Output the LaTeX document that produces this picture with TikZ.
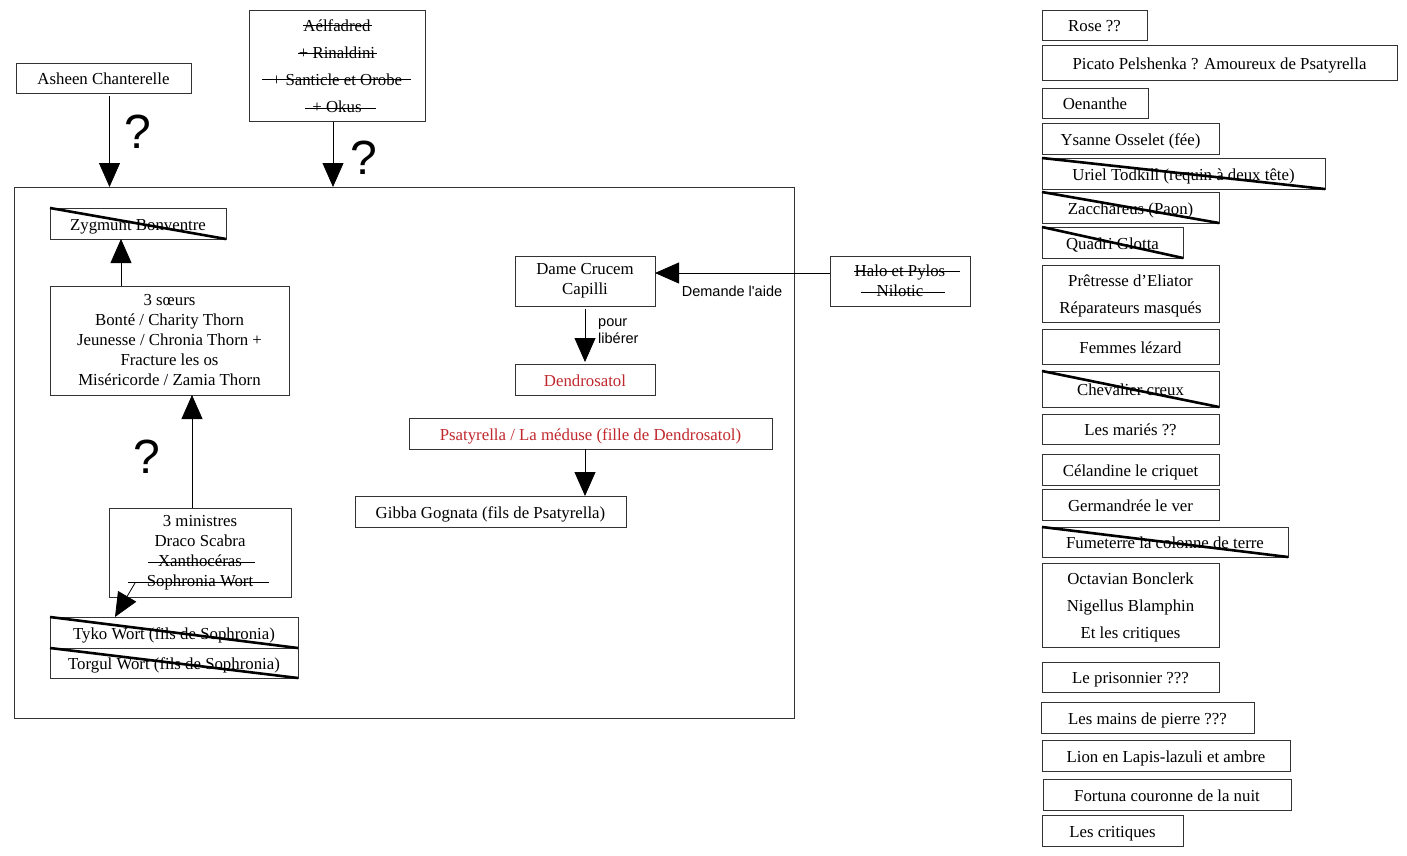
\documentclass[tikz,border=0pt]{standalone}
\usepackage{fontspec}
\setmainfont{Liberation Serif}
\newfontfamily\labelfont{Liberation Sans}
\usetikzlibrary{arrows.meta}
\definecolor{redtxt}{HTML}{C0282D}
\definecolor{edge}{HTML}{333333}
\begin{document}
\begin{tikzpicture}[x=1pt,y=-1pt,
  box/.style={draw=edge, line width=0.9pt, inner sep=0pt, outer sep=0pt, align=center, font=\fontsize{16.8}{20}\selectfont, text=black},
  one/.style={box, text height=16pt, text depth=3pt},
  wide/.style={font=\fontsize{16.8}{27}\selectfont},
  redbox/.style={text=redtxt},
  arr/.style={line width=0.8pt, -{Triangle[width=21pt,length=24pt]}},
  cross/.style={line width=2.6pt},
  strike/.style={line width=0.8pt},
  qmark/.style={font=\labelfont\fontsize{48}{48}\selectfont, inner sep=0pt},
  lbl/.style={font=\labelfont\fontsize{14.5}{16.5}\selectfont, inner sep=0pt, align=left}
]
\useasboundingbox (0,0) rectangle (1407,855);

% ---------- left part ----------
\node[one, minimum width=175pt, minimum height=30pt] (asheen) at (103.5,78) {Asheen Chanterelle};
\node[box, wide, minimum width=176pt, minimum height=111pt] (aelf) at (337,65.5)
  {\rule{0pt}{14pt}Aélfadred\\+ Rinaldini\\+ Santicle et Orobe\\+ Okus};
\draw[strike] (303,25) -- (372,25);
\draw[strike] (298,53) -- (377,53);
\draw[strike] (262,79.5) -- (411,79.5);
\draw[strike] (305,108) -- (376,108);

\node[draw=edge, line width=0.9pt, inner sep=0pt, outer sep=0pt, minimum width=780pt, minimum height=531pt] (frame) at (404,452.5) {};

\draw[arr, shorten <=3pt] ([xshift=6pt]asheen.south) -- ([xshift=6pt]asheen.south |- frame.north);
\draw[arr, shorten <=1pt] ([xshift=-4pt]aelf.south) -- ([xshift=-4pt]aelf.south |- frame.north);
\node[qmark] (q1) at (138,132) {?};
\node[qmark] (q2) at (364,158) {?};

\node[one, minimum width=176pt, minimum height=31pt] (zyg) at (138,223.5) {Zygmunt Bonventre};
\draw[cross] (zyg.north west) -- (zyg.south east);

\node[box, minimum width=239pt, minimum height=109pt] (soeurs) at (169.5,340.5)
  {3 sœurs\\Bonté / Charity Thorn\\Jeunesse / Chronia Thorn +\\Fracture les os\\Miséricorde / Zamia Thorn};
\draw[arr] ([xshift=-48.5pt]soeurs.north) -- ([xshift=-48.5pt]soeurs.north |- zyg.south);

\node[box, minimum width=182pt, minimum height=89pt] (minis) at (200,552.5)
  {3 ministres\\Draco Scabra\\Xanthocéras\\Sophronia Wort};
\draw[strike] (148,562.5) -- (255,562.5);
\draw[strike] (128,582.5) -- (269,582.5);
\draw[arr] ([xshift=-8pt]minis.north) -- ([xshift=-8pt]minis.north |- soeurs.south);
\node[qmark] (q3) at (147,457) {?};

\node[one, minimum width=248pt, minimum height=31pt] (tyko) at (174,632.5) {Tyko Wort (fils de Sophronia)};
\node[one, minimum width=248pt, minimum height=30pt] (torgul) at (174,663) {Torgul Wort (fils de Sophronia)};
\draw[cross] (tyko.north west) -- (tyko.south east);
\draw[cross] (torgul.north west) -- (torgul.south east);
\coordinate (soph) at (135,583);
\draw[arr] (soph) -- ([xshift=65pt]tyko.north west);

% ---------- middle part ----------
\node[box, minimum width=140pt, minimum height=50pt] (dame) at (585,281) {Dame Crucem\\Capilli};
\node[box, minimum width=140pt, minimum height=50pt] (halo) at (900,281) {Halo et Pylos\\Nilotic};
\draw[strike] (854,271.5) -- (960,271.5);
\draw[strike] (861,292.5) -- (945,292.5);
\draw[arr] ([yshift=8pt]halo.west) -- ([yshift=8pt]halo.west -| dame.east);
\node[lbl] (lab1) at (732,291) {Demande l'aide};

\node[one, redbox, minimum width=140pt, minimum height=31pt] (dendro) at (585,379.5) {Dendrosatol};
\draw[arr, shorten <=3pt, shorten >=2pt] (dame.south) -- (dendro.north);
\node[lbl, anchor=west] (lab2) at (598,331) {pour\\libérer};

\node[one, redbox, minimum width=363pt, minimum height=31pt] (psat) at (590.5,433.5) {Psatyrella / La méduse (fille de Dendrosatol)};
\node[one, minimum width=271pt, minimum height=31pt] (gibba) at (490.5,511.5) {Gibba Gognata (fils de Psatyrella)};
\draw[arr] ([xshift=-5.5pt]psat.south) -- ([xshift=-5.5pt]psat.south |- gibba.north);

% ---------- right column ----------
\node[one, minimum width=105pt, minimum height=30pt] (rose) at (1094.5,25) {Rose ??};
\node[one, minimum width=355pt, minimum height=35pt] (picato) at (1219.5,62.5) {Picato Pelshenka ? Amoureux de Psatyrella};
\node[one, minimum width=106pt, minimum height=30pt] (oen) at (1095,103) {Oenanthe};
\node[one, minimum width=177pt, minimum height=31pt] (ysanne) at (1130.5,138.5) {Ysanne Osselet (fée)};
\node[one, minimum width=283pt, minimum height=31pt] (uriel) at (1183.5,173.5) {Uriel Todkill (requin à deux tête)};
\draw[cross] (uriel.north west) -- (uriel.south east);
\node[one, minimum width=177pt, minimum height=31pt] (zacc) at (1130.5,207.5) {Zacchareus (Paon)};
\draw[cross] (zacc.north west) -- (zacc.south east);
\node[one, minimum width=141pt, minimum height=31pt] (quadri) at (1112.5,242.5) {Quadri Glotta};
\draw[cross] (quadri.north west) -- (quadri.south east);
\node[box, wide, minimum width=177pt, minimum height=57pt] (pret) at (1130.5,293.5) {\rule{0pt}{17pt}Prêtresse d’Eliator\\Réparateurs masqués};
\node[one, minimum width=177pt, minimum height=35pt] (femmes) at (1130.5,346.5) {Femmes lézard};
\node[one, minimum width=177pt, minimum height=36pt] (cheval) at (1130.5,389) {Chevalier creux};
\draw[cross] (cheval.north west) -- (cheval.south east);
\node[one, minimum width=177pt, minimum height=30pt] (maries) at (1130.5,429) {Les mariés ??};
\node[one, minimum width=177pt, minimum height=31pt] (celand) at (1130.5,469.5) {Célandine le criquet};
\node[one, minimum width=177pt, minimum height=31pt] (german) at (1130.5,504.5) {Germandrée le ver};
\node[one, minimum width=246pt, minimum height=30pt] (fume) at (1165,542) {Fumeterre la colonne de terre};
\draw[cross] (fume.north west) -- (fume.south east);
\node[box, wide, minimum width=177pt, minimum height=84pt] (octav) at (1130.5,605) {\rule{0pt}{16pt}Octavian Bonclerk\\Nigellus Blamphin\\Et les critiques};
\node[one, minimum width=177pt, minimum height=30pt] (prison) at (1130.5,677) {Le prisonnier ???};
\node[one, minimum width=213pt, minimum height=31pt] (mains) at (1147.5,717.5) {Les mains de pierre ???};
\node[one, minimum width=248pt, minimum height=31pt] (lion) at (1166,755.5) {Lion en Lapis-lazuli et ambre};
\node[one, minimum width=248pt, minimum height=31pt] (fortuna) at (1167,794.5) {Fortuna couronne de la nuit};
\node[one, minimum width=141pt, minimum height=31pt] (crit) at (1112.5,830.5) {Les critiques};
\end{tikzpicture}
\end{document}
